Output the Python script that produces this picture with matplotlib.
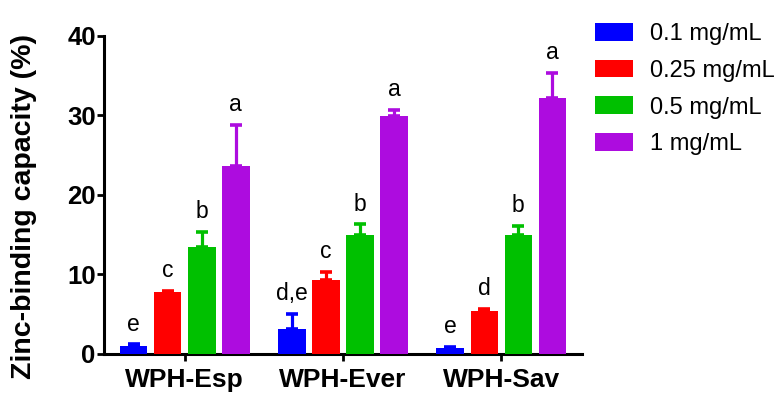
import matplotlib
matplotlib.use('Agg')
import matplotlib.pyplot as plt
import numpy as np

plt.rcParams['font.family'] = ['Liberation Sans', 'DejaVu Sans']

groups = ['WPH-Esp', 'WPH-Ever', 'WPH-Sav']
concs = ['0.1 mg/mL', '0.25 mg/mL', '0.5 mg/mL', '1 mg/mL']
colors = ['#0000FF', '#FF0000', '#00C000', '#AD0CDF']

# mean values per concentration (Esp, Ever, Sav)
means = {
    '0.1 mg/mL': [1.0, 3.1, 0.8],
    '0.25 mg/mL': [7.8, 9.3, 5.4],
    '0.5 mg/mL': [13.5, 15.0, 15.0],
    '1 mg/mL': [23.6, 29.9, 32.2],
}
errs = {
    '0.1 mg/mL': [0.2, 1.9, 0.1],
    '0.25 mg/mL': [0.1, 1.0, 0.3],
    '0.5 mg/mL': [1.8, 1.3, 1.1],
    '1 mg/mL': [5.2, 0.8, 3.1],
}
letters = {
    '0.1 mg/mL': ['e', 'd,e', 'e'],
    '0.25 mg/mL': ['c', 'c', 'd'],
    '0.5 mg/mL': ['b', 'b', 'b'],
    '1 mg/mL': ['a', 'a', 'a'],
}

fig = plt.figure(figsize=(7.75, 3.95), dpi=100)
ax = fig.add_axes([0.1342, 0.1038, 0.751 - 0.1342, 0.9089 - 0.1038])

x = np.arange(len(groups))
width = 0.174
step = 0.215
for i, c in enumerate(concs):
    xpos = x + (i - 1.5) * step
    m = np.array(means[c])
    e = np.array(errs[c])
    ax.errorbar(xpos, m, yerr=[np.zeros_like(e), e], fmt='none', ecolor=colors[i],
                elinewidth=2.3, capsize=4, capthick=2.6, zorder=2)
    ax.bar(xpos, m, width, color=colors[i], label=c, zorder=3)
    for xp, top, lab in zip(xpos, m + e, letters[c]):
        ax.annotate(lab, (xp, top), xytext=(0, 10), textcoords='offset points',
                    ha='center', va='baseline', fontsize=16.5)

ax.set_xlim(-0.51, 2.51)
ax.set_ylim(0, 40)
ax.set_yticks([0, 10, 20, 30, 40])
ax.set_xticks(x)
ax.set_xticklabels(groups, fontsize=19, fontweight='bold')
for t in ax.get_yticklabels():
    t.set_fontsize(18.5)
    t.set_fontweight('bold')
ax.set_ylabel('Zinc-binding capacity (%)', fontsize=20.5, fontweight='bold')
ax.yaxis.set_label_coords(-0.14, 0.465)

ax.spines['top'].set_visible(False)
ax.spines['right'].set_visible(False)
ax.spines['left'].set_linewidth(2.2)
ax.spines['bottom'].set_linewidth(2.2)
ax.tick_params(axis='y', length=5, width=2, pad=1)
ax.tick_params(axis='x', length=5, width=2, pad=5)

fig.legend(loc='upper left', bbox_to_anchor=(595 / 775, 1 - 23 / 395), frameon=False,
           fontsize=17, handlelength=1.61, handleheight=0.78, handletextpad=0.72,
           labelspacing=0.62, borderpad=0, borderaxespad=0)

fig.savefig('out.png', dpi=100)
